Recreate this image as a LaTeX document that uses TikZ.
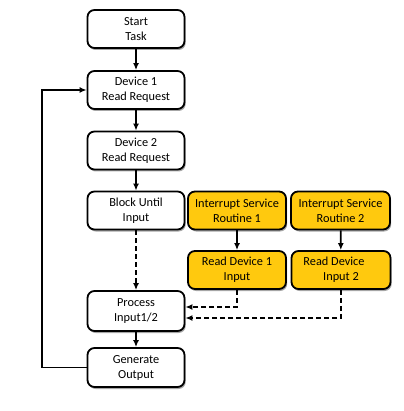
\documentclass[tikz,border=0pt]{standalone}
\usepackage{fontspec}
\setmainfont{Carlito}
\usetikzlibrary{arrows.meta,shadows,calc}
\definecolor{isrfill}{HTML}{FFC90E}
\tikzset{
  box/.style={draw=black, line width=1.8pt, rounded corners=7pt, fill=white,
    minimum width=97pt, minimum height=38pt, align=center, inner sep=1pt,
    font=\fontsize{12.3}{15}\selectfont,
    drop shadow={shadow xshift=1.2pt, shadow yshift=-2pt, fill=gray!70, opacity=1}},
  isr/.style={box, fill=isrfill, minimum width=98pt},
  conn/.style={line width=1.8pt, -{Latex[length=7pt,width=6pt]}},
  dconn/.style={conn, dash pattern=on 5pt off 3pt}
}
\begin{document}
\begin{tikzpicture}[x=1pt,y=-1pt]
\useasboundingbox (0,0) rectangle (403,411);
\node[box] (start) at (136,29) {Start\\Task};
\node[box] (dev1) at (136,90) {Device 1\\Read Request};
\node[box] (dev2) at (136,150.5) {Device 2\\Read Request};
\node[box] (block) at (136,210.5) {Block Until\\Input};
\node[box, minimum height=40pt] (proc) at (136,311) {Process\\Input1/2};
\node[box, minimum height=39pt] (gen) at (136,367.5) {Generate\\Output};
\node[isr] (isr1) at (237,210.5) {Interrupt Service\\Routine 1};
\node[isr, minimum width=99pt] (isr2) at (340.5,210.5) {Interrupt Service\\Routine 2};
\node[isr] (rd1) at (237,270) {Read Device 1\\Input};
\node[isr, minimum width=99pt] (rd2) at (341,270) {Read Device\hspace*{14pt}\\Input 2};
\coordinate (loopx) at (42,0);
\coordinate (y1) at (0,307);
\coordinate (y2) at (0,318);
\draw[conn] (start) -- (dev1);
\draw[conn] (dev1) -- (dev2);
\draw[conn] (dev2) -- (block);
\draw[dconn] (block) -- (proc);
\draw[conn] (proc) -- (gen);
\draw[conn] (isr1) -- (rd1);
\draw[conn] (isr2) -- (rd2);
\draw[dconn] (rd1.south) |- (proc.east |- y1);
\draw[dconn] (rd2.south) |- (proc.east |- y2);
\draw[conn] (gen.west) -- (loopx |- gen.west) -- (loopx |- dev1.west) -- (dev1.west);
\end{tikzpicture}
\end{document}
